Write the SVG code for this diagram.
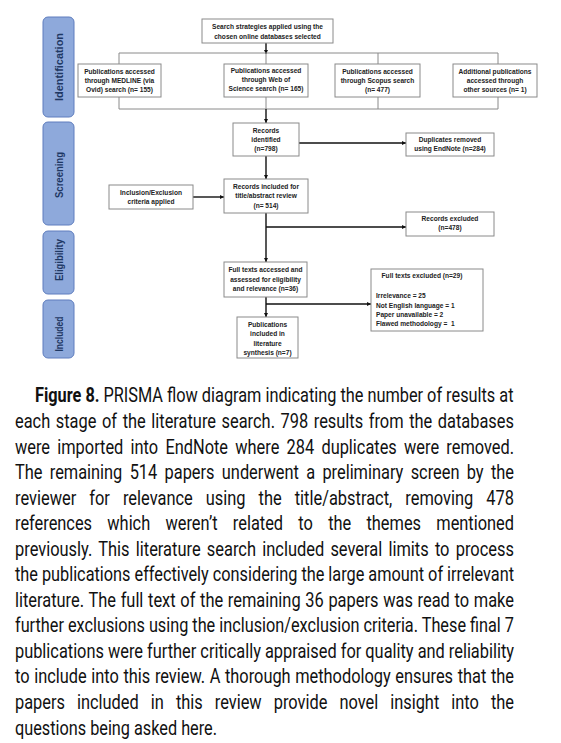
<svg xmlns="http://www.w3.org/2000/svg" width="561" height="743" viewBox="0 0 561 743">
<defs>
<marker id="ah" viewBox="0 0 8 8" refX="8" refY="4" markerWidth="4" markerHeight="4" orient="auto" markerUnits="userSpaceOnUse">
<path d="M0,0 L8,4 L0,8 z" fill="#111"/>
</marker>
<style>
.phase{fill:#8EA9DB;stroke:#5E7DBE;stroke-width:1}
.phase-t{font-family:"Liberation Sans",Arial,sans-serif;font-weight:bold;font-size:10.5px;fill:#1F3864;text-anchor:middle}
.box{fill:#fff;stroke:#8a8a8a;stroke-width:1}
.bt{font-family:"Liberation Sans",Arial,sans-serif;font-weight:bold;font-size:6.6px;fill:#222;text-anchor:middle}
.btl{font-family:"Liberation Sans",Arial,sans-serif;font-weight:bold;font-size:6.6px;fill:#222}
.thin{fill:none;stroke:#8a8a8a;stroke-width:1}
.arr{fill:none;stroke:#111;stroke-width:1.4;marker-end:url(#ah)}
.cap{font-family:Roboto,"Liberation Sans",sans-serif;font-size:20px;fill:#111}
</style>
</defs>
<rect width="561" height="743" fill="#fff"/>

<g id="phases">
<g id="phase-identification"><rect class="phase" x="43" y="17" width="31" height="100" rx="5"/><text class="phase-t" transform="translate(62.5,67) rotate(-90)" textLength="68" lengthAdjust="spacingAndGlyphs">Identification</text></g>
<g id="phase-screening"><rect class="phase" x="43" y="122" width="31" height="103" rx="5"/><text class="phase-t" transform="translate(62.5,175) rotate(-90)" textLength="46" lengthAdjust="spacingAndGlyphs">Screening</text></g>
<g id="phase-eligibility"><rect class="phase" x="43" y="231" width="31" height="63" rx="5"/><text class="phase-t" transform="translate(62.5,260) rotate(-90)" textLength="42" lengthAdjust="spacingAndGlyphs">Eligibility</text></g>
<g id="phase-included"><rect class="phase" x="43" y="300" width="31" height="58" rx="5"/><text class="phase-t" transform="translate(62.5,334) rotate(-90)" textLength="35" lengthAdjust="spacingAndGlyphs">Included</text></g>
</g>

<g id="connectors">
<line class="arr" x1="266" y1="43" x2="266" y2="54"/>
<path class="thin" d="M119,64 V53 H498 V64 M266,53 V64 M378,53 V64"/>
<path class="thin" d="M119,97 V109 H498 V97 M266,97 V109 M378,97 V109"/>
<line class="arr" x1="266" y1="109" x2="266" y2="123"/>
<line class="arr" x1="299" y1="143" x2="406" y2="143"/>
<line class="arr" x1="266" y1="156" x2="266" y2="179"/>
<line class="arr" x1="193" y1="197" x2="224" y2="197"/>
<line class="arr" x1="266" y1="213" x2="266" y2="262"/>
<line class="arr" x1="266" y1="227" x2="406" y2="227"/>
<line class="arr" x1="266" y1="297" x2="266" y2="317"/>
<line class="arr" x1="266" y1="304" x2="371" y2="304"/>
</g>

<g id="n-search"><rect class="box" x="202" y="19" width="131" height="24"/><text class="bt" x="267.5" y="29">Search strategies applied using the</text><text class="bt" x="267.5" y="38.5">chosen online databases selected</text></g>
<g id="n-medline"><rect class="box" x="78" y="64" width="83" height="33"/><text class="bt" x="119.5" y="74">Publications accessed</text><text class="bt" x="119.5" y="83">through MEDLINE (via</text><text class="bt" x="119.5" y="92">Ovid) search (n= 155)</text></g>
<g id="n-wos"><rect class="box" x="224" y="64" width="84" height="33"/><text class="bt" x="266" y="72.5">Publications accessed</text><text class="bt" x="266" y="81.5">through Web of</text><text class="bt" x="266" y="91">Science search (n= 165)</text></g>
<g id="n-scopus"><rect class="box" x="335" y="64" width="85" height="33"/><text class="bt" x="377.5" y="74">Publications accessed</text><text class="bt" x="377.5" y="83">through Scopus search</text><text class="bt" x="377.5" y="92">(n= 477)</text></g>
<g id="n-additional"><rect class="box" x="453" y="64" width="84" height="33"/><text class="bt" x="495" y="74">Additional publications</text><text class="bt" x="495" y="83">accessed through</text><text class="bt" x="495" y="92">other sources (n= 1)</text></g>
<g id="n-identified"><rect class="box" x="233" y="123" width="66" height="33"/><text class="bt" x="266" y="133">Records</text><text class="bt" x="266" y="141.7">identified</text><text class="bt" x="266" y="151">(n=798)</text></g>
<g id="n-duplicates"><rect class="box" x="406" y="133" width="88" height="23"/><text class="bt" x="450" y="141.5">Duplicates removed</text><text class="bt" x="450" y="150.5">using EndNote (n=284)</text></g>
<g id="n-criteria"><rect class="box" x="109" y="185" width="84" height="24"/><text class="bt" x="151" y="194.5">Inclusion/Exclusion</text><text class="bt" x="151" y="204">criteria applied</text></g>
<g id="n-screened"><rect class="box" x="224" y="179" width="84" height="34"/><text class="bt" x="266" y="189">Records included for</text><text class="bt" x="266" y="198">title/abstract review</text><text class="bt" x="266" y="207.5">(n= 514)</text></g>
<g id="n-excluded"><rect class="box" x="406" y="212" width="88" height="24"/><text class="bt" x="450" y="221">Records excluded</text><text class="bt" x="450" y="230">(n=478)</text></g>
<g id="n-fulltext"><rect class="box" x="224" y="262" width="83" height="35"/><text class="bt" x="265.5" y="272">Full texts accessed and</text><text class="bt" x="265.5" y="281.5">assessed for eligibility</text><text class="bt" x="265.5" y="291">and relevance (n=36)</text></g>
<g id="n-ftexcluded"><rect class="box" x="371" y="269" width="112" height="62"/><text class="bt" x="422" y="278">Full texts excluded (n=29)</text><text class="btl" x="376" y="298">Irrelevance = 25</text><text class="btl" x="376" y="307.5">Not English language = 1</text><text class="btl" x="376" y="316.5">Paper unavailable = 2</text><text class="btl" x="376" y="326" xml:space="preserve">Flawed methodology =  1</text></g>
<g id="n-included"><rect class="box" x="237" y="317" width="61" height="41"/><text class="bt" x="267.5" y="327">Publications</text><text class="bt" x="267.5" y="336">included in</text><text class="bt" x="267.5" y="345.5">literature</text><text class="bt" x="267.5" y="355">synthesis (n=7)</text></g>

<g id="caption" class="cap" transform="scale(0.83,1)">
<text x="42.17" y="402.5" textLength="576.5" lengthAdjust="spacingAndGlyphs"><tspan font-weight="bold">Figure 8.</tspan> PRISMA flow diagram indicating the number of results at</text>
<text x="18.07" y="428" textLength="601.2" lengthAdjust="spacingAndGlyphs" word-spacing="1.85">each stage of the literature search. 798 results from the databases</text>
<text x="18.07" y="453.6" textLength="601.2" lengthAdjust="spacingAndGlyphs" word-spacing="3.95">were imported into EndNote where 284 duplicates were removed.</text>
<text x="18.07" y="479.1" textLength="601.2" lengthAdjust="spacingAndGlyphs" word-spacing="4">The remaining 514 papers underwent a preliminary screen by the</text>
<text x="18.07" y="504.7" textLength="601.2" lengthAdjust="spacingAndGlyphs" word-spacing="10.9">reviewer for relevance using the title/abstract, removing 478</text>
<text x="18.07" y="530.2" textLength="601.2" lengthAdjust="spacingAndGlyphs" word-spacing="13.7">references which weren’t related to the themes mentioned</text>
<text x="18.07" y="555.8" textLength="601.2" lengthAdjust="spacingAndGlyphs" word-spacing="2.6">previously. This literature search included several limits to process</text>
<text x="18.07" y="581.3" textLength="601.2" lengthAdjust="spacingAndGlyphs">the publications effectively considering the large amount of irrelevant</text>
<text x="18.07" y="606.9" textLength="601.2" lengthAdjust="spacingAndGlyphs" word-spacing="0.75">literature. The full text of the remaining 36 papers was read to make</text>
<text x="18.07" y="632.4" textLength="601.2" lengthAdjust="spacingAndGlyphs">further exclusions using the inclusion/exclusion criteria. These final 7</text>
<text x="18.07" y="658" textLength="601.2" lengthAdjust="spacingAndGlyphs">publications were further critically appraised for quality and reliability</text>
<text x="18.07" y="683.5" textLength="601.2" lengthAdjust="spacingAndGlyphs" word-spacing="0.74">to include into this review. A thorough methodology ensures that the</text>
<text x="18.07" y="709.1" textLength="601.2" lengthAdjust="spacingAndGlyphs" word-spacing="9.77">papers included in this review provide novel insight into the</text>
<text x="18.07" y="734.6" textLength="243.4" lengthAdjust="spacingAndGlyphs">questions being asked here.</text>
</g>
</svg>
